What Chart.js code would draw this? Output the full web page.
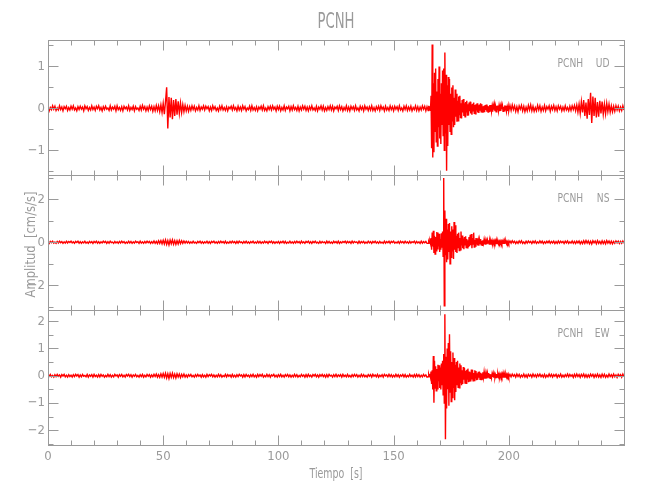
<!DOCTYPE html>
<html>
<head>
<meta charset="utf-8">
<title>PCNH</title>
<script src="https://cdn.jsdelivr.net/npm/chart.js@4.4.1/dist/chart.umd.min.js"></script>
<style>
  html, body { margin: 0; padding: 0; background: #ffffff; }
  #wrap { position: relative; width: 650px; height: 500px; }
</style>
</head>
<body>
<div id="wrap"><canvas id="chart" width="650" height="500"></canvas></div>
<script>
// ---------------- DATA ----------------
const stationName = 'PCNH';
const components = ['UD', 'NS', 'EW'];
const xTitle = 'Tiempo  [s]';
const yTitle = 'Amplitud  [cm/s/s]';
const xTickValues = [0, 50, 100, 150, 200];
const udTickValues = [-1, 0, 1];
const nsTickValues = [-2, 0, 2];
const ewTickValues = [-2, -1, 0, 1, 2];

// Traces: extrema read from the record (cm/s/s).
// "Quiet" arrays: one value every 0.5 s; "Event" arrays: one value every 0.25 s.
// UD ------------------------------------------------------------
const udQuietStart = [ // t = 0 .. 164.5 s
  .04,-.06,.02,-.03,.06,-.02,.05,-.05,.01,-.04,.06,-.03,.03,-.06,.04,-.01,.05,-.05,.02,-.04,
  .05,-.02,.06,-.04,.01,-.06,.04,-.03,.05,-.02,.03,-.06,.06,-.01,.04,-.05,.02,-.04,.06,-.03,
  .03,-.05,.05,-.01,.06,-.04,.02,-.06,.04,-.03,.05,-.02,.01,-.05,.06,-.04,.03,-.02,.05,-.06,
  .06,-.03,.02,-.05,.04,-.06,.05,-.01,.03,-.04,.06,-.05,.02,-.03,.05,-.06,.04,-.02,.01,-.05,
  .05,-.04,.07,-.02,.04,-.06,.03,-.05,.06,-.03,.05,-.07,.04,-.06,.07,-.05,.06,-.08,.08,-.10,
  .12,-.14,.16,.50,-.48,.27,-.22,.25,-.26,.20,-.18,.22,-.15,.17,-.12,.13,-.10,.09,-.08,.07,
  -.06,.05,-.07,.04,-.05,.06,-.03,.05,-.06,.02,-.04,.06,-.05,.03,-.02,.06,-.04,.05,-.01,.04,
  -.06,.03,-.05,.06,-.02,.04,-.05,.01,-.06,.05,-.03,.06,-.04,.02,-.05,.04,-.06,.03,-.01,.05,
  -.04,.06,-.03,.02,-.06,.05,-.04,.03,-.05,.06,-.02,.04,-.06,.01,-.03,.05,-.05,.06,-.04,.02,
  -.05,.04,-.06,.03,-.02,.05,-.04,.06,-.05,.01,-.06,.04,-.03,.05,-.04,.06,-.02,.03,-.06,.05,
  -.03,.05,-.06,.02,-.04,.06,-.05,.03,-.01,.05,-.06,.04,-.04,.06,-.03,.02,-.05,.05,-.06,.03,
  -.04,.06,-.02,.05,-.05,.03,-.06,.04,-.03,.06,-.04,.01,-.05,.05,-.06,.03,-.02,.06,-.04,.05,
  -.06,.02,-.05,.04,-.03,.06,-.04,.05,-.06,.03,-.01,.05,-.05,.06,-.03,.04,-.06,.02,-.04,.06,
  -.05,.03,-.06,.05,-.02,.04,-.05,.06,-.04,.01,-.06,.05,-.03,.04,-.06,.06,-.02,.03,-.05,.04,
  -.04,.06,-.05,.02,-.06,.04,-.03,.05,-.05,.06,-.02,.03,-.06,.05,-.04,.02,-.05,.06,-.03,.04,
  -.06,.05,-.02,.04,-.05,.06,-.04,.01,-.06,.05,-.03,.06,-.05,.03,-.04,.05,-.06,.02,-.03,.06,
  -.05,.04,-.06,.03,-.04,.06,-.02,.05,-.06,.04
];
const udEvent = [ // t = 165 .. 200 s
  -.05,.06,-.03,.05,
  -.06,.30,-.95,1.52,
  -1.17,.60,-1.05,.85,
  -.55,.95,-.80,.40,
  -.90,.70,-.45,1.00,
  -.72,.35,-.85,.60,
  -.40,.90,-.65,.95,
  -1.00,1.33,-.60,.80,
  -1.49,.55,-.90,.75,
  -.40,.70,-.55,.35,
  -.62,.50,-.30,.55,
  -.45,.25,-.40,.45,
  -.20,.35,-.32,.18,
  -.30,.28,-.15,.30,
  -.22,.12,-.24,.20,
  -.10,.22,-.18,.12,
  -.20,.15,-.08,.18,
  -.16,.10,-.17,.14,
  -.07,.16,-.12,.09,
  -.15,.11,-.06,.14,
  -.12,.08,-.13,.10,
  -.05,.12,-.10,.07,
  -.11,.09,-.04,.12,
  -.08,.10,-.09,.05,
  -.10,.06,-.09,.08,
  -.04,.09,-.08,.06,
  -.09,.05,-.07,.08,
  -.05,.08,-.07,.04,
  -.08,.06,-.03,.08,
  -.07,.04,-.08,.06,
  -.03,.07,-.06,.05,
  -.07,.04,-.06,.07,
  -.02,.06,-.07,.04,
  -.06,.07,-.03,.06,
  -.07,.02,-.06,.05,
  -.06
];
const udQuietEnd = [ // t = 200.5 .. 250 s
  .07,-.05,.08,-.03,.06,-.07,.04,-.08,.06,-.02,.07,-.06,.05,-.08,.03,-.06,.07,-.04,.08,-.06,
  .05,-.07,.02,-.06,.07,-.04,.06,-.07,.03,-.05,.07,-.06,.04,-.02,.06,-.07,.05,-.03,.07,-.05,
  .04,-.06,.06,-.02,.05,-.06,.03,-.05,.06,-.04,.02,-.06,.05,-.05,.06,-.03,.07,-.06,.08,-.09,
  .10,-.12,.16,-.10,.20,-.18,.14,-.25,.22,-.16,.37,-.35,.28,-.18,.25,-.22,.15,-.20,.18,-.12,
  .16,-.14,.10,-.13,.12,-.08,.10,-.09,.06,-.08,.05,-.07,.06,-.04,.05,-.06,.03,-.05,.06,-.04
];
// NS ------------------------------------------------------------
const nsQuietStart = [ // t = 0 .. 164.5 s
  .03,-.05,.04,-.02,.05,-.04,.01,-.05,.04,-.03,.05,-.02,.03,-.05,.02,-.04,.05,-.03,.04,-.01,
  .05,-.03,.02,-.05,.04,-.01,.05,-.04,.03,-.05,.02,-.03,.05,-.04,.01,-.05,.04,-.02,.03,-.05,
  .04,-.02,.05,-.04,.03,-.05,.02,-.03,.05,-.01,.04,-.05,.03,-.04,.05,-.02,.01,-.05,.04,-.03,
  .02,-.05,.04,-.03,.05,-.02,.03,-.05,.01,-.04,.05,-.03,.04,-.05,.02,-.04,.05,-.01,.03,-.05,
  .05,-.04,.02,-.05,.04,-.03,.05,-.02,.04,-.05,.03,-.04,.06,-.05,.04,-.06,.07,-.05,.08,-.07,
  .09,-.08,.11,-.10,.08,-.12,.10,-.07,.11,-.09,.08,-.10,.07,-.08,.09,-.06,.07,-.05,.06,-.04,
  .05,-.03,.04,-.05,.02,-.04,.05,-.03,.01,-.05,.04,-.02,.05,-.04,.03,-.05,.02,-.03,.05,-.04,
  .03,-.05,.04,-.01,.05,-.04,.02,-.05,.04,-.03,.05,-.02,.03,-.04,.05,-.05,.01,-.04,.04,-.03,
  .05,-.02,.03,-.05,.04,-.04,.05,-.01,.02,-.05,.04,-.03,.05,-.04,.02,-.05,.03,-.02,.05,-.04,
  .01,-.04,.05,-.03,.04,-.05,.02,-.04,.05,-.02,.03,-.05,.04,-.01,.05,-.04,.03,-.05,.02,-.03,
  .04,-.05,.03,-.02,.05,-.04,.04,-.05,.01,-.03,.05,-.04,.02,-.05,.04,-.03,.05,-.02,.03,-.05,
  .05,-.03,.02,-.05,.04,-.01,.05,-.04,.03,-.05,.04,-.02,.05,-.03,.01,-.05,.04,-.04,.03,-.02,
  .02,-.05,.05,-.03,.04,-.04,.01,-.05,.05,-.02,.03,-.04,.05,-.05,.02,-.03,.04,-.01,.05,-.04,
  .04,-.02,.03,-.05,.05,-.03,.04,-.01,.02,-.05,.05,-.04,.03,-.02,.04,-.05,.01,-.04,.05,-.03,
  .03,-.05,.04,-.02,.05,-.04,.02,-.05,.04,-.03,.01,-.05,.05,-.04,.03,-.02,.05,-.05,.04,-.01,
  .05,-.04,.01,-.03,.04,-.05,.05,-.02,.03,-.04,.05,-.03,.02,-.05,.04,-.04,.03,-.01,.05,-.05,
  .04,-.03,.02,-.05,.05,-.04,.03,-.02,.04,-.05
];
const nsEvent = [ // t = 165 .. 200 s
  -.05,.04,-.03,.06,
  -.05,.20,-.35,.45,
  -.20,.54,-.50,.30,
  -.55,.25,-.40,.48,
  -.30,.45,-.20,.40,
  -.45,.15,-.35,.42,
  -.25,.50,-.65,3.00,
  -2.96,1.48,-.60,1.10,
  -.93,.60,-.80,.85,
  -.45,.90,-1.00,.50,
  -.70,.75,-.40,.60,
  -.78,.95,-.35,.80,
  -.45,.30,-.50,.40,
  -.25,.45,-.38,.20,
  -.35,.50,-.15,.32,
  -.28,.18,-.32,.25,
  -.12,.28,-.25,.15,
  -.26,.10,-.22,.25,
  -.18,.35,-.12,.39,
  -.28,.20,-.08,.45,
  -.22,.12,-.18,.20,
  -.10,.18,-.15,.08,
  -.16,.12,-.06,.15,
  -.12,.07,-.14,.10,
  -.05,.12,-.10,.08,
  -.11,.06,-.09,.10,
  -.04,.09,-.08,.05,
  -.08,.07,-.03,.08,
  -.07,.04,-.08,.06,
  -.03,.07,-.06,.05,
  -.06,.03,-.07,.05,
  -.04,.06,-.02,.05,
  -.06,.04,-.05,.03,
  -.05,.06,-.02,.05,
  -.06,.03,-.05,.04,
  -.05
];
const nsQuietEnd = [ // t = 200.5 .. 250 s
  .06,-.04,.07,-.02,.05,-.06,.03,-.05,.06,-.03,.07,-.05,.02,-.06,.05,-.04,.06,-.02,.04,-.06,
  .05,-.03,.06,-.05,.02,-.04,.06,-.03,.05,-.06,.03,-.04,.05,-.02,.06,-.05,.04,-.03,.05,-.06,
  .03,-.05,.06,-.04,.05,-.02,.04,-.06,.05,-.03,.06,-.05,.02,-.04,.06,-.05,.04,-.06,.05,-.03,
  .06,-.07,.04,-.06,.07,-.05,.08,-.04,.06,-.07,.05,-.08,.07,-.03,.06,-.07,.08,-.05,.04,-.07,
  .07,-.06,.05,-.07,.08,-.04,.06,-.06,.05,-.07,.04,-.05,.06,-.03,.05,-.06,.04,-.05,.06,-.04
];
// EW ------------------------------------------------------------
const ewQuietStart = [ // t = 0 .. 164.5 s
  .04,-.02,.05,-.04,.01,-.05,.04,-.03,.05,-.02,.03,-.05,.04,-.01,.05,-.04,.02,-.05,.04,-.03,
  .02,-.05,.04,-.03,.05,-.01,.04,-.05,.03,-.04,.05,-.02,.01,-.04,.05,-.05,.03,-.02,.04,-.05,
  .05,-.03,.02,-.05,.04,-.04,.05,-.02,.03,-.05,.01,-.04,.05,-.03,.04,-.05,.02,-.04,.05,-.01,
  .03,-.05,.04,-.02,.05,-.04,.02,-.05,.04,-.01,.05,-.03,.04,-.05,.03,-.02,.05,-.04,.01,-.05,
  .04,-.03,.05,-.05,.02,-.04,.05,-.02,.04,-.05,.03,-.04,.05,-.03,.06,-.05,.04,-.06,.07,-.05,
  .08,-.06,.09,-.08,.07,-.10,.08,-.06,.09,-.07,.06,-.08,.07,-.05,.06,-.07,.05,-.04,.06,-.05,
  .03,-.05,.04,-.02,.05,-.04,.01,-.05,.04,-.03,.05,-.02,.03,-.05,.04,-.04,.02,-.05,.05,-.03,
  .04,-.01,.05,-.04,.03,-.05,.02,-.04,.05,-.03,.04,-.05,.01,-.03,.05,-.04,.04,-.02,.03,-.05,
  .05,-.04,.02,-.05,.04,-.03,.05,-.01,.03,-.05,.04,-.04,.05,-.02,.02,-.05,.04,-.03,.05,-.04,
  .02,-.05,.05,-.03,.04,-.02,.05,-.05,.01,-.04,.05,-.03,.04,-.05,.03,-.01,.05,-.04,.02,-.05,
  .04,-.03,.05,-.04,.02,-.05,.04,-.02,.05,-.04,.03,-.05,.02,-.04,.05,-.03,.04,-.05,.01,-.04,
  .05,-.02,.03,-.05,.04,-.04,.05,-.03,.02,-.05,.04,-.01,.05,-.04,.03,-.05,.04,-.02,.05,-.03,
  .03,-.05,.04,-.04,.05,-.01,.02,-.05,.04,-.03,.05,-.04,.03,-.02,.04,-.05,.05,-.03,.02,-.04,
  .05,-.04,.01,-.05,.04,-.03,.05,-.02,.04,-.05,.02,-.04,.05,-.03,.04,-.04,.01,-.05,.04,-.02,
  .04,-.05,.05,-.02,.03,-.04,.05,-.05,.02,-.03,.04,-.05,.05,-.01,.03,-.04,.05,-.03,.04,-.05,
  .02,-.04,.05,-.03,.04,-.05,.03,-.02,.05,-.04,.04,-.05,.01,-.04,.05,-.03,.02,-.05,.04,-.04,
  .05,-.03,.04,-.05,.02,-.04,.05,-.02,.03,-.05
];
const ewEvent = [ // t = 165 .. 200 s
  -.04,.05,-.03,.06,
  -.05,.15,-.30,.20,
  -.50,.72,-.99,.55,
  -.45,.35,-.55,.25,
  -.48,.40,-.20,.38,
  -.45,.30,-.50,.45,
  -.35,.55,-.70,.80,
  -1.00,2.25,-2.33,.70,
  -1.20,1.00,-.50,1.20,
  -1.10,1.52,-.60,.90,
  -.95,.50,-.80,.85,
  -.45,.65,-.90,.40,
  -.60,.50,-.35,.55,
  -.42,.30,-.44,.45,
  -.25,.38,-.35,.20,
  -.30,.32,-.15,.28,
  -.27,.18,-.28,.22,
  -.12,.26,-.24,.15,
  -.22,.12,-.21,.23,
  -.14,.22,-.19,.10,
  -.18,.20,-.08,.17,
  -.16,.09,-.15,.14,
  -.07,.15,-.13,.11,
  -.14,.08,-.12,.13,
  -.06,.12,-.11,.07,
  -.11,.06,-.10,.09,
  -.05,.10,-.08,.06,
  -.09,.05,-.08,.07,
  -.04,.08,-.07,.05,
  -.07,.03,-.07,.06,
  -.05,.07,-.03,.06,
  -.06,.04,-.05,.06,
  -.03,.06,-.05,.04,
  -.05,.03,-.05,.05,
  -.04,.05,-.02,.05,
  -.05
];
const ewQuietEnd = [ // t = 200.5 .. 250 s
  .05,-.04,.06,-.02,.04,-.05,.06,-.03,.05,-.06,.02,-.04,.06,-.05,.03,-.06,.05,-.02,.04,-.05,
  .06,-.03,.04,-.05,.05,-.02,.06,-.04,.03,-.05,.05,-.06,.02,-.04,.06,-.03,.05,-.05,.04,-.02,
  .05,-.06,.03,-.04,.06,-.05,.02,-.05,.04,-.03,.06,-.04,.05,-.02,.03,-.06,.05,-.04,.06,-.03,
  .04,-.06,.05,-.03,.06,-.05,.04,-.06,.03,-.05,.06,-.02,.05,-.06,.04,-.04,.06,-.05,.03,-.06,
  .06,-.04,.05,-.06,.02,-.05,.06,-.03,.04,-.05,.06,-.04,.03,-.06,.05,-.02,.04,-.05,.06,-.04
];

// ---------------- BUILD ----------------
function trace(segments) {
  const pts = [];
  segments.forEach(([t0, dt, vals]) => {
    vals.forEach((v, i) => pts.push({ x: t0 + i * dt, y: v }));
  });
  return pts;
}
const udTrace = trace([[0, 0.5, udQuietStart], [165, 0.25, udEvent], [200.5, 0.5, udQuietEnd]]);
const nsTrace = trace([[0, 0.5, nsQuietStart], [165, 0.25, nsEvent], [200.5, 0.5, nsQuietEnd]]);
const ewTrace = trace([[0, 0.5, ewQuietStart], [165, 0.25, ewEvent], [200.5, 0.5, ewQuietEnd]]);

const FONT = "'Liberation Sans Narrow', 'DejaVu Sans Condensed', 'Liberation Sans', sans-serif";
const GREY = '#9a9a9a';
const RED = '#ff0000';

function fmt(v) { return v < 0 ? '\u2212' + Math.abs(v) : String(v); }

function yScale(ticks, min, max, weight) {
  return {
    type: 'linear', position: 'left', stack: 'panels', stackWeight: 1, weight: weight,
    min: min, max: max,
    grid: { display: false, drawTicks: false },
    border: { display: false },
    afterBuildTicks: s => { s.ticks = ticks.map(v => ({ value: v })); },
    afterFit: s => { s.width = 48; },
    ticks: { padding: 3, color: GREY, font: { family: FONT, size: 13 }, callback: v => fmt(v) }
  };
}

const panelDefs = [
  { id: 'yUD', comp: components[0], major: 1, minor: 0.5 },
  { id: 'yNS', comp: components[1], major: 2, minor: 1 },
  { id: 'yEW', comp: components[2], major: 1, minor: 0.5 }
];

function fitText(ctx, txt, x, y, px, sx, align) {
  ctx.save();
  ctx.font = px + 'px ' + FONT;
  ctx.translate(x, y);
  ctx.scale(sx, 1);
  ctx.textAlign = align;
  ctx.textBaseline = 'alphabetic';
  ctx.fillText(txt, 0, 0);
  ctx.restore();
}
function scaleFor(ctx, txt, px, w) {
  ctx.font = px + 'px ' + FONT;
  return w / ctx.measureText(txt).width;
}

const framePlugin = {
  id: 'frame',
  afterDraw(chart) {
    const ctx = chart.ctx, ca = chart.chartArea, xs = chart.scales.x;
    ctx.save();
    ctx.strokeStyle = GREY;
    ctx.lineWidth = 1;
    const L = Math.round(ca.left) + 0.5, R = Math.round(ca.right) + 0.5;
    const seg = (x1, y1, x2, y2) => { ctx.beginPath(); ctx.moveTo(x1, y1); ctx.lineTo(x2, y2); ctx.stroke(); };
    panelDefs.forEach(p => {
      const ys = chart.scales[p.id];
      const T = Math.round(ys.top) + 0.5, B = Math.round(ys.bottom) + 0.5;
      ctx.strokeRect(L, T, R - L, B - T);
      const kStart = Math.ceil(ys.min / p.minor), kEnd = Math.floor(ys.max / p.minor);
      for (let k = kStart; k <= kEnd; k++) {
        const v = k * p.minor;
        const y = Math.round(ys.getPixelForValue(v)) + 0.5;
        const isMajor = Math.abs(v / p.major - Math.round(v / p.major)) < 1e-6;
        const len = isMajor ? 10 : 5;
        seg(L, y, L + len, y);
        seg(R, y, R - len, y);
      }
      for (let k = 1; k < 25; k++) {
        const t = k * 10;
        const x = Math.round(xs.getPixelForValue(t)) + 0.5;
        const len = (t % 50 === 0) ? 10 : 5;
        seg(x, T, x, T + len);
        seg(x, B, x, B - len);
      }
    });
    ctx.fillStyle = GREY;
    const cx = (ca.left + ca.right) / 2;
    fitText(ctx, stationName, cx, 28, 22, scaleFor(ctx, stationName, 22, 37), 'center');
    fitText(ctx, xTitle, cx, 478, 14, scaleFor(ctx, xTitle, 14, 53), 'center');
    ctx.save();
    ctx.translate(35, (ca.top + ca.bottom) / 2 + 2);
    ctx.rotate(-Math.PI / 2);
    fitText(ctx, yTitle, 0, 0, 14, scaleFor(ctx, yTitle, 14, 106), 'center');
    ctx.restore();
    const sx = scaleFor(ctx, stationName, 13, 25.6);
    panelDefs.forEach(p => {
      const ys = chart.scales[p.id];
      const by = Math.round(ys.top) + 26.5;
      fitText(ctx, stationName, 557.5, by, 13, sx, 'left');
      fitText(ctx, p.comp, 609.5, by, 13, sx, 'right');
    });
    ctx.restore();
  }
};

const ds = (label, data, axis) => ({
  label: label, data: data, yAxisID: axis, xAxisID: 'x',
  borderColor: RED, borderWidth: 1.4, pointRadius: 0, tension: 0, fill: false
});

new Chart(document.getElementById('chart'), {
  type: 'line',
  data: {
    datasets: [
      ds(components[0], udTrace, 'yUD'),
      ds(components[1], nsTrace, 'yNS'),
      ds(components[2], ewTrace, 'yEW')
    ]
  },
  options: {
    responsive: false,
    animation: false,
    devicePixelRatio: 1,
    parsing: false,
    normalized: true,
    events: [],
    layout: { padding: { left: 0, right: 26, top: 40, bottom: 0 } },
    plugins: { legend: { display: false }, title: { display: false }, tooltip: { enabled: false } },
    scales: {
      x: {
        type: 'linear', position: 'bottom', min: 0, max: 250,
        grid: { display: false, drawTicks: false },
        border: { display: false },
        afterBuildTicks: s => { s.ticks = xTickValues.map(v => ({ value: v })); },
        afterFit: s => { s.height = 55; },
        ticks: { padding: 4, maxRotation: 0, autoSkip: false, color: GREY, font: { family: FONT, size: 13 }, callback: v => String(v) }
      },
      yUD: yScale(udTickValues, -1.59, 1.63, 3),
      yNS: yScale(nsTickValues, -3.16, 3.14, 2),
      yEW: yScale(ewTickValues, -2.54, 2.41, 1)
    }
  },
  plugins: [framePlugin]
});
</script>
</body>
</html>
